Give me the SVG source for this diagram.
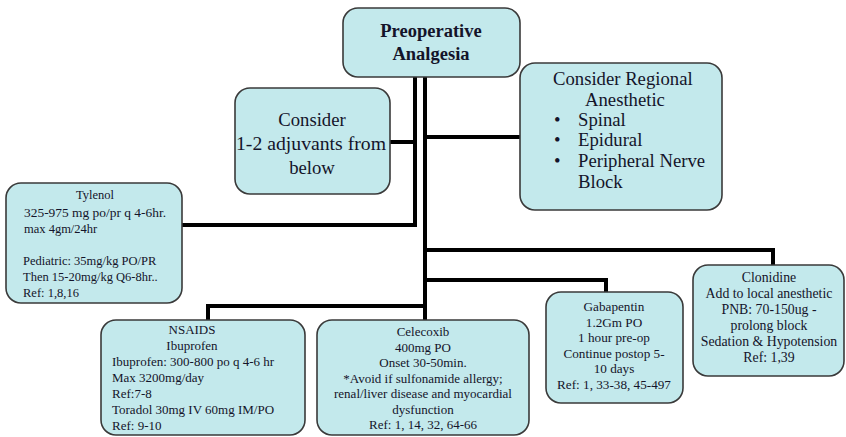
<svg xmlns="http://www.w3.org/2000/svg" width="846" height="437" viewBox="0 0 846 437">
<style>
.box{fill:#c3e9ec;stroke:#3a3a3a;stroke-width:1.6}
.t{font-family:"Liberation Serif",serif;fill:#14142a}
.c{text-anchor:middle}
.s{font-size:12.5px}
.n{font-size:13px}
.g{font-size:13.2px}
.k{font-size:13.8px}
.m{font-size:18.7px}
.b{font-weight:bold;font-size:18.5px}
.ln{stroke:#000;stroke-width:4;fill:none}
</style>
<rect width="846" height="437" fill="#fff"/>
<g id="connectors">
<path class="ln" d="M415,77 V225 H182"/>
<path class="ln" d="M389,142 H415"/>
<path class="ln" d="M425,77 V320"/>
<path class="ln" d="M425,137 H520"/>
<path class="ln" d="M425,250 H773 V265"/>
<path class="ln" d="M425,280 H606 V292"/>
<path class="ln" d="M425,306 H208 V320"/>
</g>
<g id="preop">
<rect class="box" x="343" y="8" width="177" height="69" rx="15"/>
<text class="t c b" x="431" y="37">Preoperative</text>
<text class="t c b" x="431" y="60">Analgesia</text>
</g>
<g id="consider">
<rect class="box" x="235" y="88" width="155" height="106" rx="15"/>
<text class="t c m" x="312" y="126">Consider</text>
<text class="t c m" x="311" y="150" textLength="150" lengthAdjust="spacingAndGlyphs">1-2 adjuvants from</text>
<text class="t c m" x="312" y="174">below</text>
</g>
<g id="regional">
<rect class="box" x="520" y="63" width="202" height="147" rx="15"/>
<text class="t m" x="553" y="85">Consider Regional</text>
<text class="t m" x="585" y="106">Anesthetic</text>
<text class="t m" x="554" y="126">•</text>
<text class="t m" x="578" y="126">Spinal</text>
<text class="t m" x="554" y="146">•</text>
<text class="t m" x="578" y="146">Epidural</text>
<text class="t m" x="554" y="167">•</text>
<text class="t m" x="578" y="167">Peripheral Nerve</text>
<text class="t m" x="578" y="188">Block</text>
</g>
<g id="tylenol">
<rect class="box" x="6" y="183" width="176" height="120" rx="15"/>
<text class="t c s" x="95" y="199">Tylenol</text>
<text class="t s" x="24" y="216.5" textLength="142" lengthAdjust="spacingAndGlyphs">325-975 mg po/pr q 4-6hr.</text>
<text class="t s" x="24" y="233">max 4gm/24hr</text>
<text class="t s" x="23" y="265">Pediatric: 35mg/kg PO/PR</text>
<text class="t s" x="23" y="281">Then 15-20mg/kg Q6-8hr..</text>
<text class="t s" x="23" y="297">Ref: 1,8,16</text>
</g>
<g id="nsaids">
<rect class="box" x="101" y="320" width="204" height="115" rx="15"/>
<text class="t c n" x="192" y="334">NSAIDS</text>
<text class="t c n" x="192" y="350">Ibuprofen</text>
<text class="t n" x="112" y="366">Ibuprofen: 300-800 po q 4-6 hr</text>
<text class="t n" x="112" y="382">Max 3200mg/day</text>
<text class="t n" x="112" y="398">Ref:7-8</text>
<text class="t n" x="112" y="414">Toradol 30mg IV 60mg IM/PO</text>
<text class="t n" x="112" y="430">Ref: 9-10</text>
</g>
<g id="celecoxib">
<rect class="box" x="317" y="320" width="212" height="115" rx="15"/>
<text class="t c n" x="423" y="336">Celecoxib</text>
<text class="t c n" x="423" y="351.5">400mg PO</text>
<text class="t c n" x="423" y="367">Onset 30-50min.</text>
<text class="t c n" x="423" y="382.5">*Avoid if sulfonamide allergy;</text>
<text class="t c n" x="423" y="398">renal/liver disease and myocardial</text>
<text class="t c n" x="423" y="413.5">dysfunction</text>
<text class="t c n" x="423" y="429">Ref: 1, 14, 32, 64-66</text>
</g>
<g id="gabapentin">
<rect class="box" x="546" y="292" width="137" height="111" rx="15"/>
<text class="t c g" x="614" y="311">Gabapentin</text>
<text class="t c g" x="614" y="326.5">1.2Gm PO</text>
<text class="t c g" x="614" y="342">1 hour pre-op</text>
<text class="t c g" x="614" y="357.5">Continue postop 5-</text>
<text class="t c g" x="614" y="373">10 days</text>
<text class="t c g" x="614" y="388.5">Ref: 1, 33-38, 45-497</text>
</g>
<g id="clonidine">
<rect class="box" x="693" y="265" width="151" height="111" rx="15"/>
<text class="t c k" x="769" y="282">Clonidine</text>
<text class="t c k" x="769" y="298">Add to local anesthetic</text>
<text class="t c k" x="769" y="314">PNB: 70-150ug -</text>
<text class="t c k" x="769" y="330">prolong block</text>
<text class="t c k" x="769" y="346">Sedation &amp; Hypotension</text>
<text class="t c k" x="769" y="362">Ref: 1,39</text>
</g>
</svg>
